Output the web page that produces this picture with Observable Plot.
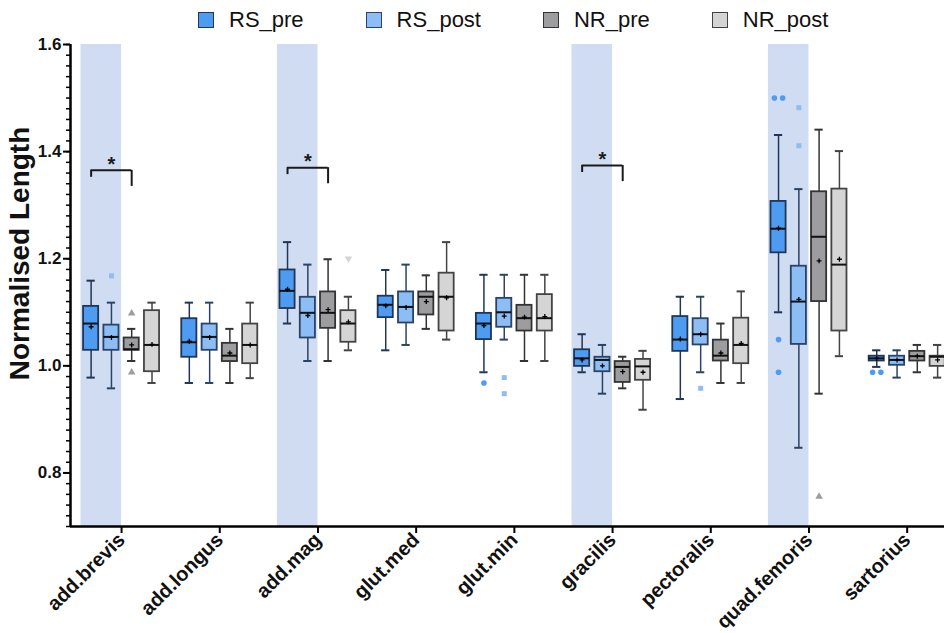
<!DOCTYPE html>
<html>
<head>
<meta charset="utf-8">
<script src="https://cdn.jsdelivr.net/npm/d3@7"></script>
<script src="https://cdn.jsdelivr.net/npm/@observablehq/plot@0.6"></script>
<style>
  body { margin: 0; background: #fff; font-family: "Liberation Sans", Arial, sans-serif; width: 944px; height: 633px; overflow: hidden; }
  #legend { height: 34px; box-sizing: border-box; padding-top: 5px; display: flex; align-items: center; padding-left: 198px; gap: 62px; font-size: 22px; color: #111; }
  #legend .item { display: flex; align-items: center; gap: 15px; }
  #legend .sw { width: 16px; height: 16px; box-sizing: border-box; border: 1.5px solid; }
  #chart svg { display: block; }
</style>
</head>
<body>
<div id="legend"></div>
<div id="chart"></div>
<script>
// Muscles (x categories) and the four groups compared in each
const muscles = ["add.brevis", "add.longus", "add.mag", "glut.med", "glut.min", "gracilis", "pectoralis", "quad.femoris", "sartorius"];
const conditions = ["RS_pre", "RS_post", "NR_pre", "NR_post"];

// Box-plot summaries, one row per muscle, columns in the order of `conditions`
const whiskerLow = [
  [0.978, 0.958, 1.009, 0.968],
  [0.968, 0.968, 0.968, 0.977],
  [1.079, 1.009, 1.009, 1.029],
  [1.029, 1.039, 1.069, 1.049],
  [0.988, 1.049, 1.009, 1.009],
  [0.988, 0.948, 0.958, 0.918],
  [0.938, 0.988, 0.968, 0.968],
  [1.100, 0.847, 0.948, 1.018],
  [0.998, 0.978, 0.988, 0.978]
];
const quartile1 = [
  [1.029, 1.029, 1.029, 0.989],
  [1.016, 1.029, 1.008, 1.004],
  [1.107, 1.052, 1.070, 1.044],
  [1.090, 1.080, 1.095, 1.065],
  [1.049, 1.072, 1.065, 1.065],
  [0.999, 0.989, 0.969, 0.973],
  [1.027, 1.039, 1.009, 1.004],
  [1.211, 1.040, 1.120, 1.065],
  [1.009, 1.001, 1.009, 0.999]
];
const median = [
  [1.079, 1.054, 1.031, 1.039],
  [1.044, 1.054, 1.019, 1.039],
  [1.140, 1.099, 1.099, 1.079],
  [1.114, 1.110, 1.129, 1.129],
  [1.079, 1.100, 1.089, 1.089],
  [1.014, 1.011, 0.998, 0.999],
  [1.049, 1.059, 1.019, 1.039],
  [1.256, 1.120, 1.241, 1.189],
  [1.014, 1.011, 1.018, 1.017]
];
const quartile3 = [
  [1.111, 1.076, 1.052, 1.103],
  [1.088, 1.078, 1.042, 1.078],
  [1.179, 1.128, 1.138, 1.103],
  [1.130, 1.138, 1.138, 1.173],
  [1.098, 1.126, 1.113, 1.133],
  [1.030, 1.016, 1.008, 1.012],
  [1.092, 1.088, 1.048, 1.089],
  [1.307, 1.186, 1.325, 1.330],
  [1.018, 1.018, 1.027, 1.018]
];
const whiskerHigh = [
  [1.159, 1.118, 1.069, 1.118],
  [1.118, 1.118, 1.069, 1.118],
  [1.231, 1.189, 1.199, 1.129],
  [1.179, 1.189, 1.169, 1.231],
  [1.170, 1.170, 1.170, 1.170],
  [1.059, 1.039, 1.017, 1.028],
  [1.129, 1.129, 1.079, 1.139],
  [1.431, 1.330, 1.441, 1.401],
  [1.029, 1.029, 1.039, 1.039]
];
const mean = [
  [1.073, 1.053, 1.039, 1.040],
  [1.046, 1.053, 1.024, 1.039],
  [1.143, 1.094, 1.105, 1.082],
  [1.112, 1.109, 1.120, 1.127],
  [1.075, 1.093, 1.091, 1.092],
  [1.011, 1.000, 0.989, 0.988],
  [1.050, 1.059, 1.024, 1.042],
  [1.257, 1.124, 1.196, 1.199],
  [1.014, 1.011, 1.018, 1.011]
];

// Individual outliers: [muscle, condition, value]
const outliers = [
  ["add.brevis", "RS_post", 1.168],
  ["add.brevis", "NR_pre", 1.098],
  ["add.brevis", "NR_pre", 0.988],
  ["add.mag", "NR_post", 1.200],
  ["glut.min", "RS_pre", 0.968],
  ["glut.min", "RS_post", 0.978],
  ["glut.min", "RS_post", 0.948],
  ["pectoralis", "RS_post", 0.958],
  ["quad.femoris", "RS_pre", 1.500],
  ["quad.femoris", "RS_pre", 1.500],
  ["quad.femoris", "RS_pre", 1.049],
  ["quad.femoris", "RS_pre", 0.988],
  ["quad.femoris", "RS_post", 1.482],
  ["quad.femoris", "RS_post", 1.411],
  ["quad.femoris", "NR_pre", 0.756],
  ["sartorius", "RS_pre", 0.988],
  ["sartorius", "RS_pre", 0.988]
];

// Muscles highlighted as differing between groups, and the significance brackets (RS_pre vs NR_pre)
const highlighted = ["add.brevis", "add.mag", "gracilis", "quad.femoris"];
const significant = ["add.brevis", "add.mag", "gracilis"];
const bracketLevel = [1.365, 1.370, 1.374];

// Appearance
const fillColor = { RS_pre: "#4d9cf1", RS_post: "#8cbdf4", NR_pre: "#9d9da0", NR_post: "#d5d5d6" };
const lineColor = { RS_pre: "#1f3657", RS_post: "#2a4366", NR_pre: "#333333", NR_post: "#444444" };
const outlierSymbol = { RS_pre: "circle", RS_post: "square", NR_pre: "triangle", NR_post: "triangle" };
const slot = [-0.31, -0.103, 0.103, 0.31]; // box centre offsets within a muscle group
const halfBox = 0.077, halfCap = 0.042, dupSpread = 0.042;

const rows = muscles.flatMap((m, gi) => conditions.map((c, si) => ({
  muscle: m, cond: c, x: gi + slot[si],
  lo: whiskerLow[gi][si], q1: quartile1[gi][si], med: median[gi][si],
  q3: quartile3[gi][si], hi: whiskerHigh[gi][si], mean: mean[gi][si]
})));

// Spread tied outliers side by side
const outlierRows = outliers.map(([m, c, v], i) => {
  const same = o => o[0] === m && o[1] === c && o[2] === v;
  const ties = outliers.filter(same).length;
  const k = outliers.slice(0, i).filter(same).length;
  const shift = (k - (ties - 1) / 2) * 2 * dupSpread;
  return { muscle: m, cond: c, value: v, x: muscles.indexOf(m) + slot[conditions.indexOf(c)] + shift };
});

const brackets = significant.map((m, i) => {
  const gi = muscles.indexOf(m);
  return { muscle: m, xa: gi + slot[0], xb: gi + slot[2], level: bracketLevel[i] };
});

// Legend
const legend = d3.select("#legend");
for (const c of conditions) {
  const item = legend.append("div").attr("class", "item");
  item.append("div").attr("class", "sw").style("background", fillColor[c]).style("border-color", lineColor[c]);
  item.append("span").text(c);
}

const yMajor = [0.8, 1.0, 1.2, 1.4, 1.6];
const yMinor = d3.range(35, 81).map(i => i / 50);

const chart = Plot.plot({
  width: 944,
  height: 599,
  marginLeft: 70,
  marginRight: 0,
  marginTop: 10,
  marginBottom: 107,
  style: { fontFamily: "Liberation Sans, Arial, sans-serif", color: "#111", background: "#fff" },
  color: { type: "identity" },
  x: { domain: [-0.52, 8.38] },
  y: { domain: [0.7, 1.6] },
  marks: [
    // highlighted RS columns
    Plot.rect(highlighted, {
      x1: m => muscles.indexOf(m) + slot[0] - 0.103,
      x2: m => muscles.indexOf(m),
      fill: "#cfdcf1"
    }),
    // whiskers and caps
    Plot.ruleX(rows, { x: "x", y1: "q3", y2: "hi", stroke: d => lineColor[d.cond], strokeWidth: 1.5 }),
    Plot.ruleX(rows, { x: "x", y1: "lo", y2: "q1", stroke: d => lineColor[d.cond], strokeWidth: 1.5 }),
    Plot.ruleY(rows, { y: "hi", x1: d => d.x - halfCap, x2: d => d.x + halfCap, stroke: d => lineColor[d.cond], strokeWidth: 2 }),
    Plot.ruleY(rows, { y: "lo", x1: d => d.x - halfCap, x2: d => d.x + halfCap, stroke: d => lineColor[d.cond], strokeWidth: 2 }),
    // boxes
    Plot.rect(rows, {
      x1: d => d.x - halfBox, x2: d => d.x + halfBox, y1: "q1", y2: "q3",
      fill: d => fillColor[d.cond], stroke: d => lineColor[d.cond], strokeWidth: 1.8
    }),
    // medians
    Plot.ruleY(rows, { y: "med", x1: d => d.x - halfBox, x2: d => d.x + halfBox, stroke: "#111", strokeWidth: 2 }),
    // means
    Plot.dot(rows, { x: "x", y: "mean", symbol: "plus", r: 1.7, stroke: "#000", strokeWidth: 1.3 }),
    // outliers
    Plot.dot(outlierRows.filter(d => d.cond !== "NR_post"), {
      x: "x", y: "value", symbol: d => outlierSymbol[d.cond], r: 2.8, fill: d => fillColor[d.cond], stroke: "none"
    }),
    Plot.dot(outlierRows.filter(d => d.cond === "NR_post"), {
      x: "x", y: "value", symbol: "triangle", rotate: 180, r: 2.8, fill: d => fillColor[d.cond], stroke: "none"
    }),
    // significance brackets
    Plot.ruleY(brackets, { y: "level", x1: "xa", x2: "xb", stroke: "#1a1a1a", strokeWidth: 2 }),
    Plot.ruleX(brackets, { x: "xa", y1: "level", y2: d => d.level - 0.013, stroke: "#1a1a1a", strokeWidth: 2 }),
    Plot.ruleX(brackets, { x: "xb", y1: "level", y2: d => d.level - 0.03, stroke: "#1a1a1a", strokeWidth: 2 }),
    Plot.text(brackets, { x: d => (d.xa + d.xb) / 2, y: "level", text: () => "*", fontSize: 20, fontWeight: "bold", dy: -6, fill: "#1a1a1a" }),
    // axes: minor ticks, major ticks with labels
    Plot.axisY({ ticks: yMinor, tickSize: 4, fill: "none", stroke: "#000", strokeWidth: 1.5, label: null }),
    Plot.axisY({
      ticks: yMajor, tickSize: 7, tickPadding: 2, tickFormat: d3.format(".1f"),
      fontSize: 17, fontWeight: "bold", stroke: "#000", strokeWidth: 2, label: null
    }),
    Plot.axisX({
      ticks: d3.range(muscles.length), tickFormat: i => muscles[i], tickSize: 7, tickPadding: 3,
      tickRotate: -45, fontSize: 20, fontWeight: "bold", stroke: "#000", strokeWidth: 2, label: null
    }),
    // y-axis title, set in the left margin
    Plot.text(["Normalised Length"], {
      frameAnchor: "left", textAnchor: "middle", rotate: -90, dx: -50, dy: -32,
      fontSize: 28, fontWeight: "bold", fill: "#111"
    }),
    Plot.ruleX([-0.52], { stroke: "#000", strokeWidth: 2.5 }),
    Plot.ruleY([0.7], { stroke: "#000", strokeWidth: 2.5 })
  ]
});

document.getElementById("chart").append(chart);
</script>
</body>
</html>
